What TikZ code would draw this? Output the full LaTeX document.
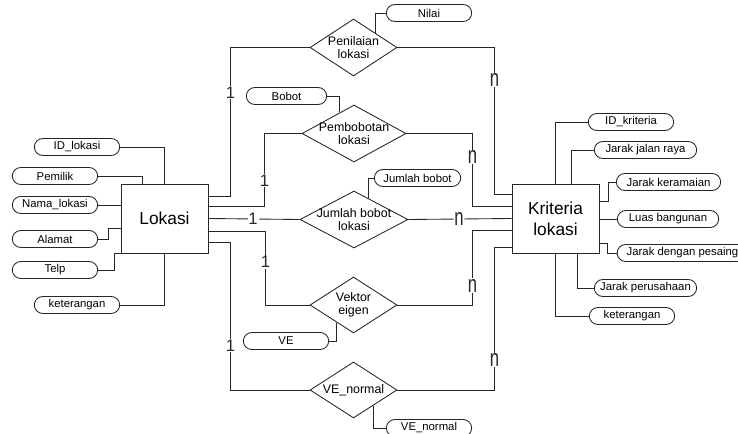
\documentclass[tikz,border=0pt]{standalone}
\usepackage{fontspec}
\setmainfont{Liberation Sans}
\usetikzlibrary{shapes.geometric,shapes.misc,calc}

\begin{document}
\begin{tikzpicture}%
        [x=0.75pt, y=-0.75pt,
        link/.style={color=black!85, line width=0.65pt},
        entity/.style={draw=black!85, line width=0.65pt, rectangle, minimum width=65.25pt, minimum height=51.75pt, inner sep=0pt, align=center, font=\fontsize{13}{15.75}\selectfont},
        rel/.style={draw=black!85, line width=0.65pt, diamond, minimum width=65.25pt, minimum height=42.75pt, inner sep=0pt},
        rellabel/.style={align=center, inner sep=0pt, font=\fontsize{9.3}{9.75}\selectfont},
        attr/.style={draw=black!85, line width=0.65pt, rounded rectangle, minimum width=66pt, minimum height=12.75pt, inner sep=1pt, font=\fontsize{8.5}{9}\selectfont},
        card/.style={fill=white, inner sep=0.6pt, font=\fontsize{12.5}{13}\selectfont}]
%
\useasboundingbox (0,0) rectangle (738,434);
\clip (0,0) rectangle (738,434);
%%
%% Entities
%%
\node[entity] (lok) at (164.5,218.5) {Lokasi};
\node[entity] (kri) at (555.5,218.5) {Kriteria\\lokasi};
%%
%% Relationships
%%
\node[rel, label={[rellabel]center:{Penilaian\\lokasi}}] (pen) at (353.5,47.5) {};
\node[rel, minimum width=78pt, label={[rellabel]center:{Pembobotan\\lokasi}}] (pem) at (354,133.5) {};
\node[rel, minimum width=81pt, label={[rellabel]center:{Jumlah bobot\\lokasi}}] (jum) at (354,219.5) {};
\node[rel, minimum height=42pt, label={[rellabel]center:{Vektor\\eigen}}] (vek) at (353.5,305) {};
\node[rel, minimum height=42pt, label={[rellabel]center:{VE\_normal}}] (ven) at (353.5,390) {};
%%
%% Attributes of Lokasi
%%
\node[attr] (idLok) at (77,147) {ID\_lokasi};
\node[attr] (pemilik) at (55,176) {Pemilik};
\node[attr] (namaLok) at (55,205) {Nama\_lokasi};
\node[attr] (alamat) at (55,239) {Alamat};
\node[attr] (telp) at (55,270) {Telp};
\node[attr] (ketLok) at (77,305) {keterangan};
%%
%% Attributes of Kriteria lokasi
%%
\node[attr] (idKri) at (631,122) {ID\_kriteria};
\node[attr, minimum width=78.75pt] (jalan) at (645.5,150) {Jarak jalan raya};
\node[attr, minimum width=80.25pt] (ramai) at (668.5,182) {Jarak keramaian};
\node[attr, minimum width=78pt] (luas) at (668,219) {Luas bangunan};
\node[attr, minimum width=100pt] (saing) at (682.5,253) {Jarak dengan pesaing};
\node[attr, minimum width=78.75pt] (usaha) at (645.5,288) {Jarak perusahaan};
\node[attr] (ketKri) at (632,316) {keterangan};
%%
%% Attributes of the relationships
%%
\node[attr] (nilai) at (429,13) {Nilai};
\node[attr, minimum width=62.25pt] (bobot) at (286.5,96) {Bobot};
\node[attr, minimum width=66.75pt] (jmlBobot) at (417.5,178) {Jumlah bobot};
\node[attr] (ve) at (286,341) {VE};
\node[attr] (veNormal) at (429,428) {VE\_normal};
%%
%% Lines to the attributes
%%
\draw[link] (idLok.east) -| (lok.north);
\draw[link] (pemilik.east) -| ($(lok.north west)!0.25!(lok.north east)$);
\draw[link] (namaLok.east) -- (namaLok.east -| lok.west);
\draw[link] (alamat.east) -- ++(10,0) |- ($(lok.north west)!0.64!(lok.south west)$);
\draw[link] (telp.east) -- ++(16,0) |- ($(lok.south west)!0.25!(lok.south east)$);
\draw[link] (ketLok.east) -| (lok.south);

\draw[link] (idKri.west) -| (kri.north);
\draw[link] (jalan.west) -| ($(kri.north west)!0.68!(kri.north east)$);
\draw[link] (ramai.west) -- ++(-7,0) |- ($(kri.north east)!0.26!(kri.south east)$);
\draw[link] (luas.west) -- (luas.west -| kri.east);
\draw[link] (saing.west) -- ++(-9,0) |- ($(kri.north east)!0.86!(kri.south east)$);
\draw[link] (usaha.west) -| ($(kri.south west)!0.75!(kri.south east)$);
\draw[link] (ketKri.west) -| (kri.south);

\draw[link] (nilai.west) -| ($(pen.north)!0.5!(pen.east)$);
\draw[link] (bobot.east) -| ($(pem.north)!0.27!(pem.west)$);
\draw[link] (jmlBobot.west) -| ($(jum.north)!0.26!(jum.east)$);
\draw[link] (ve.east) -| ($(vek.west)!0.62!(vek.south)$);
\draw[link] (veNormal.west) -| ($(ven.south)!0.45!(ven.east)$);
%%
%% Lines of the relationships
%%
\draw[link] ($(lok.north east)!0.19!(lok.south east)$) -- ++(22,0) |- node[card, pos=0.35] (c1) {1} (pen.west);
\draw[link] ($(kri.north west)!0.16!(kri.south west)$) -- ++(-17,0) |- node[card, pos=0.39] (n1) {\scalebox{1}[1.45]{n}} (pen.east);
\draw[link] ($(lok.north east)!0.33!(lok.south east)$) -- ++(56,0) |- node[card, pos=0.18] (c2) {1} (pem.west);
\draw[link] ($(kri.north west)!0.33!(kri.south west)$) -- ++(-39,0) |- node[card, pos=0.34] (n2) {\scalebox{1}[1.45]{n}} (pem.east);
\draw[link] (lok.east) -- node[card, pos=0.49] (c3) {1} (jum.west);
\draw[link] (jum.east) -- node[card, pos=0.49] (n3) {\scalebox{1}[1.45]{n}} (kri.west);
\draw[link] ($(lok.north east)!0.68!(lok.south east)$) -- ++(57,0) |- node[card, pos=0.21] (c4) {1} (vek.west);
\draw[link] ($(kri.north west)!0.67!(kri.south west)$) -- ++(-39,0) |- node[card, pos=0.37] (n4) {\scalebox{1}[1.45]{n}} (vek.east);
\draw[link] ($(lok.north east)!0.84!(lok.south east)$) -- ++(22,0) |- node[card, pos=0.35] (c5) {1} (ven.west);
\draw[link] ($(kri.north west)!0.91!(kri.south west)$) -- ++(-17,0) |- node[card, pos=0.395] (n5) {\scalebox{1}[1.45]{n}} (ven.east);

\end{tikzpicture}
\end{document}
